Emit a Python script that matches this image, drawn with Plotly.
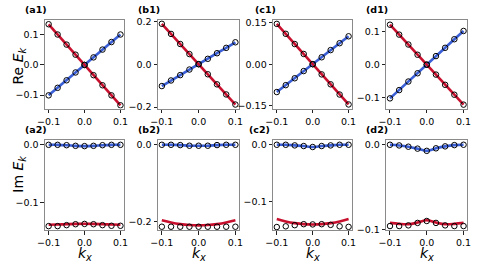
import plotly.graph_objects as go

kx = [-0.1, -0.075, -0.05, -0.025, 0.0, 0.025, 0.05, 0.075, 0.1]

# ---- Row 1: Re E_k ----
a1_blue = [-0.101, -0.076, -0.051, -0.025, 0.0, 0.025, 0.051, 0.076, 0.101]
a1_red = [0.135, 0.101, 0.0675, 0.034, 0.0, -0.034, -0.0675, -0.101, -0.134]
b1_blue = [-0.102, -0.076, -0.051, -0.025, 0.0, 0.025, 0.051, 0.076, 0.102]
b1_red = [0.188, 0.141, 0.094, 0.047, 0.0, -0.047, -0.094, -0.141, -0.188]
c1_blue = [-0.101, -0.076, -0.051, -0.025, 0.0, 0.025, 0.051, 0.076, 0.101]
c1_red = [0.146, 0.110, 0.073, 0.037, 0.0, -0.037, -0.073, -0.110, -0.146]
d1_blue = [-0.102, -0.077, -0.051, -0.026, 0.0, 0.026, 0.051, 0.077, 0.102]
d1_red = [0.121, 0.091, 0.061, 0.030, 0.0, -0.030, -0.061, -0.091, -0.121]

# ---- Row 2: Im E_k ----
a2_blue = [0.0, 0.0, -0.0006, -0.0017, -0.0022, -0.0017, -0.0006, 0.0, 0.0]
a2_red_line = [-0.1375, -0.137, -0.1365, -0.136, -0.1358, -0.136, -0.1365, -0.137, -0.1375]
a2_red_pts = [-0.1398, -0.1398, -0.1381, -0.1365, -0.136, -0.1365, -0.1381, -0.1392, -0.1392]

b2_blue = [0.0, 0.0, -0.0008, -0.0025, -0.0025, -0.0025, -0.0008, 0.0, 0.0]
b2_red_line = [-0.1975, -0.2033, -0.2075, -0.2100, -0.2108, -0.2100, -0.2075, -0.2033, -0.1975]
b2_red_pts = [-0.2144, -0.2144, -0.2144, -0.2144, -0.2144, -0.2144, -0.2144, -0.2144, -0.2144]

c2_blue = [0.0, 0.0, -0.0011, -0.0022, -0.0039, -0.0022, -0.0011, 0.0, 0.0]
c2_red_line = [-0.1298, -0.1340, -0.1369, -0.1387, -0.1393, -0.1387, -0.1369, -0.1340, -0.1298]
c2_red_pts = [-0.1438, -0.1425, -0.1405, -0.1388, -0.1392, -0.1388, -0.1400, -0.1425, -0.1435]

d2_blue = [0.0, -0.0008, -0.0023, -0.0046, -0.0072, -0.0042, -0.0019, -0.0004, 0.0]
d2_red_line = [-0.0924, -0.0935, -0.0939, -0.0920, -0.0893, -0.0920, -0.0939, -0.0935, -0.0924]
d2_red_pts = [-0.0961, -0.0961, -0.0953, -0.0924, -0.0901, -0.0924, -0.0953, -0.0961, -0.0961]

panel_labels = ["(a1)", "(b1)", "(c1)", "(d1)", "(a2)", "(b2)", "(c2)", "(d2)"]
x_ticks = [-0.1, 0.0, 0.1]
x_ticktext = ["\u22120.1", "0.0", "0.1"]
y_ticks = [[-0.1, 0.0, 0.1], [-0.2, 0.0, 0.2], [-0.15, 0.0, 0.15], [-0.1, 0.0, 0.1],
           [-0.1, 0.0], [-0.2, 0.0], [-0.1, 0.0], [-0.1, 0.0]]
y_ticktext = [["\u22120.1", "0.0", "0.1"], ["\u22120.2", "0.0", "0.2"],
              ["\u22120.15", "0.00", "0.15"], ["\u22120.1", "0.0", "0.1"],
              ["\u22120.1", "0.0"], ["\u22120.2", "0.0"], ["\u22120.1", "0.0"], ["\u22120.1", "0.0"]]

BLUE = "#3a5fd6"
RED = "#c8102e"
W, H = 480, 264

col_px = [(38, 119), (154, 237), (272, 353), (388, 471)]
row_px = [(16.3, 108.3), (141, 234)]
y_ranges = [[-0.145, 0.15], [-0.207, 0.207], [-0.161, 0.161], [-0.133, 0.136],
            [-0.1465, 0.008], [-0.223, 0.012], [-0.149, 0.008], [-0.1008, 0.0054]]

panels = [
    (a1_blue, a1_blue, a1_red, a1_red, "linear"),
    (b1_blue, b1_blue, b1_red, b1_red, "linear"),
    (c1_blue, c1_blue, c1_red, c1_red, "linear"),
    (d1_blue, d1_blue, d1_red, d1_red, "linear"),
    (a2_blue, a2_blue, a2_red_line, a2_red_pts, "spline"),
    (b2_blue, b2_blue, b2_red_line, b2_red_pts, "spline"),
    (c2_blue, c2_blue, c2_red_line, c2_red_pts, "spline"),
    (d2_blue, d2_blue, d2_red_line, d2_red_pts, "spline"),
]

FONT = "DejaVu Sans"
fig = go.Figure()
layout = dict(width=W, height=H, autosize=False, margin=dict(l=0, r=0, t=0, b=0),
              paper_bgcolor="white", plot_bgcolor="white", showlegend=False,
              font=dict(family=FONT, color="black"))
annotations = []
marker_style = dict(symbol="circle", size=5.5, color="rgba(0,0,0,0)",
                    line=dict(color="black", width=1))

label_x_px = [15, 131.7, 251.7, 365, 15, 131.7, 245, 365]
label_y_px = [5.5, 130]

for i, (bl, bp, rl, rp, shape) in enumerate(panels):
    r, c = divmod(i, 4)
    n = "" if i == 0 else str(i + 1)
    xa, ya = "x" + n, "y" + n
    x0, x1 = col_px[c]
    yt, yb = row_px[r]
    fig.add_trace(go.Scatter(x=kx, y=bl, mode="lines", line=dict(color=BLUE, width=2.6, shape=shape),
                             xaxis=xa, yaxis=ya, hoverinfo="skip"))
    fig.add_trace(go.Scatter(x=kx, y=rl, mode="lines", line=dict(color=RED, width=2.6, shape=shape),
                             xaxis=xa, yaxis=ya, hoverinfo="skip"))
    fig.add_trace(go.Scatter(x=kx, y=bp, mode="markers", marker=marker_style, xaxis=xa, yaxis=ya))
    fig.add_trace(go.Scatter(x=kx, y=rp, mode="markers", marker=marker_style, xaxis=xa, yaxis=ya))
    axis_common = dict(showline=True, linecolor="#8a8a8a", linewidth=1.2, mirror=True,
                       ticks="outside", ticklen=3.5, tickwidth=1, tickcolor="#222",
                       showgrid=False, zeroline=False, tickfont=dict(family=FONT, size=9.5, color="black"))
    layout["xaxis" + n] = dict(domain=[x0 / W, x1 / W], anchor=ya, range=[-0.11, 0.11],
                               tickvals=x_ticks, ticktext=x_ticktext, **axis_common)
    layout["yaxis" + n] = dict(domain=[1 - yb / H, 1 - yt / H], anchor=xa, range=y_ranges[i],
                               tickvals=y_ticks[i], ticktext=y_ticktext[i], **axis_common)
    annotations.append(dict(text="<b>" + panel_labels[i] + "</b>", xref="paper", yref="paper",
                            x=label_x_px[i] / W, y=1 - label_y_px[r] / H, xanchor="left", yanchor="middle",
                            showarrow=False, font=dict(family=FONT, size=9.5, color="black")))
    if r == 1:
        annotations.append(dict(text="<i>k</i><sub><i>x</i></sub>", xref="paper", yref="paper",
                                x=(x0 + x1) / 2 / W, y=1 - 247.5 / H, xanchor="center", yanchor="top",
                                showarrow=False, font=dict(family=FONT, size=14, color="black")))

annotations.append(dict(text="Re <i>E</i><sub><i>k</i></sub>", xref="paper", yref="paper",
                        x=11 / W, y=1 - 64 / H, xanchor="center", yanchor="middle", textangle=-90,
                        showarrow=False, font=dict(family=FONT, size=14, color="black")))
annotations.append(dict(text="Im <i>E</i><sub><i>k</i></sub>", xref="paper", yref="paper",
                        x=11 / W, y=1 - 176 / H, xanchor="center", yanchor="middle", textangle=-90,
                        showarrow=False, font=dict(family=FONT, size=14, color="black")))
layout["annotations"] = annotations
fig.update_layout(**layout)
fig.write_html("out.html", config={"displayModeBar": False},
               post_script="document.body.style.margin='0px';document.body.style.padding='0px';")
